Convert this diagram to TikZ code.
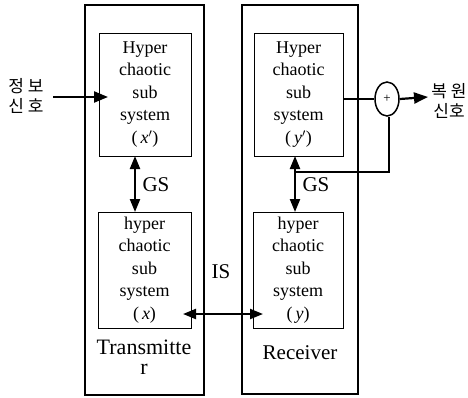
\documentclass[tikz,border=0pt]{standalone}
\usepackage{fontspec}
\setmainfont{Liberation Serif}
\newfontfamily\kr{Noto Sans CJK KR}
\usetikzlibrary{arrows.meta,shapes.geometric}
\begin{document}
\begin{tikzpicture}[x=1pt,y=-1pt,
  outerbox/.style={draw,line width=1.1pt,inner sep=0pt},
  innerbox/.style={draw,line width=0.9pt,inner sep=0pt,align=center,
    font=\fontsize{18}{22.5}\selectfont},
  lbl/.style={inner sep=0pt,font=\fontsize{21}{20}\selectfont,align=center},
  krl/.style={inner sep=0pt,font=\kr\fontsize{17}{20}\selectfont,align=center},
  thick arr/.style={line width=2.2pt,-{Triangle[length=14pt,width=11pt]}},
  dbl arr/.style={line width=2.2pt,{Triangle[length=13pt,width=10pt]}-{Triangle[length=13pt,width=10pt]}},
  plainline/.style={line width=2.2pt}]
\useasboundingbox (0,0) rectangle (468,397);
% outer boxes
\node[outerbox,minimum width=119pt,minimum height=390pt] (outL) at (144.5,200) {};
\node[outerbox,minimum width=116pt,minimum height=389pt] (outR) at (300,199.5) {};
% inner boxes
\node[innerbox,minimum width=92pt,minimum height=123pt] (topL) at (145,94.5)
  {Hyper\\chaotic\\sub\\system\\(\,\textit{x}$'$)};
\node[innerbox,minimum width=93pt,minimum height=116pt] (botL) at (144.5,270)
  {hyper\\chaotic\\sub\\system\\(\,\textit{x})};
\node[innerbox,minimum width=89pt,minimum height=123pt] (topR) at (298.5,94.5)
  {Hyper\\chaotic\\sub\\system\\(\,\textit{y}$'$)};
\node[innerbox,minimum width=90pt,minimum height=116pt] (botR) at (298,270)
  {hyper\\chaotic\\sub\\system\\(\,\textit{y})};
% labels
\node[lbl,font=\fontsize{22}{20}\selectfont] (tx) at (144,357) {Transmitte\\r};
\node[lbl] (rx) at (300,353) {Receiver};
\node[lbl] (gsL) at (156,185) {GS};
\node[lbl] (gsR) at (316,185) {GS};
\node[lbl] (is) at (221,272) {IS};
\node[krl] (inp) at (26,96) {정 보\\신 호};
\node[krl] (outp) at (449,101) {복 원\\신호};
% summing junction
\node[draw,ellipse,line width=1.5pt,minimum width=24pt,minimum height=34pt,inner sep=0pt,
  font=\fontsize{13}{13}\selectfont] (sum) at (387,99) {+};
% coordinates
\coordinate (inS) at (53,97);
\coordinate (inE) at (108,97);
\coordinate (gsLt) at (135,156);
\coordinate (gsLb) at (135,212);
\coordinate (gsRt) at (295,156);
\coordinate (gsRb) at (295,212);
\coordinate (isA) at (183,314);
\coordinate (isB) at (263,314);
\coordinate (fbC) at (389,172);
\coordinate (fbE) at (295,172);
\coordinate (outE) at (428,97);
% connectors
\draw[thick arr] (inS) -- (inE);
\draw[dbl arr] (gsLt) -- (gsLb);
\draw[dbl arr] (gsRt) -- (gsRb);
\draw[dbl arr] (isA) -- (isB);
\draw[plainline] (topR.east |- sum.west) -- (sum.west);
\draw[thick arr] (sum.east) -- (outE);
\draw[plainline] (sum.south -| fbC) -- (fbC) -- (fbE);
\end{tikzpicture}
\end{document}
